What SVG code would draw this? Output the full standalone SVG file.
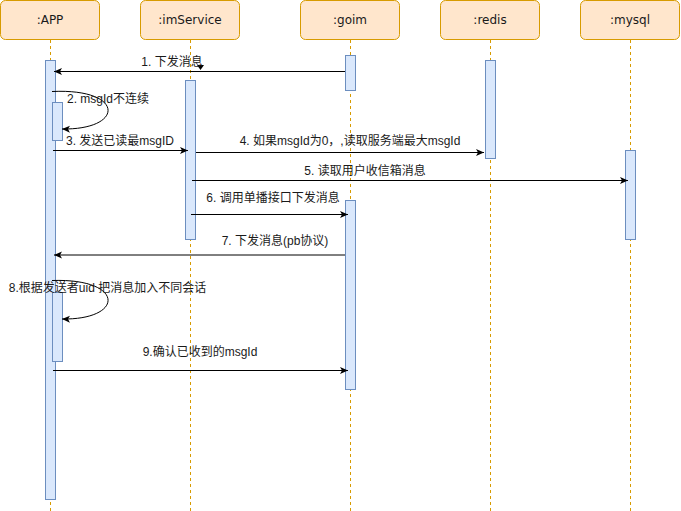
<svg xmlns="http://www.w3.org/2000/svg" width="681" height="511" viewBox="0 0 681 511">
<style>
.hdr{fill:#ffe6cc;stroke:#d79b00;stroke-width:1}
.life{stroke:#d79b00;stroke-width:1;stroke-dasharray:3 3;fill:none}
.act{fill:#dae8fc;stroke:#6c8ebf;stroke-width:1}
.msg{stroke:#000;stroke-width:1;fill:none}
text{font-family:"Liberation Sans","Noto Sans CJK SC",sans-serif;font-size:12px;fill:#1a1a1a}
.ht{text-anchor:middle;font-family:"DejaVu Sans","Liberation Sans",sans-serif}
.lbl{text-anchor:middle}
</style>
<defs>
<marker id="arr" markerUnits="userSpaceOnUse" markerWidth="10" markerHeight="8" refX="8" refY="3.5" orient="auto">
<path d="M0,0 L8,3.5 L0,7 L2,3.5 Z" fill="#000"/>
</marker>
</defs>
<rect width="681" height="511" fill="#fff"/>
<g id="lifelines">
<line class="life" x1="50.5" y1="40" x2="50.5" y2="511"/>
<line class="life" x1="190.5" y1="40" x2="190.5" y2="511"/>
<line class="life" x1="350.5" y1="40" x2="350.5" y2="511"/>
<line class="life" x1="490.5" y1="40" x2="490.5" y2="511"/>
<line class="life" x1="630.5" y1="40" x2="630.5" y2="511"/>
</g>
<g id="node-app">
<rect class="hdr" x="0.5" y="0.5" width="99" height="39" rx="5"/>
<text class="ht" x="50" y="24">:APP</text>
<rect class="act" x="45.5" y="60.5" width="10" height="439"/>
<rect class="act" x="52.5" y="102.5" width="10" height="38"/>
<rect class="act" x="52.5" y="292.5" width="10" height="69"/>
</g>
<g id="node-imservice">
<rect class="hdr" x="140.5" y="0.5" width="99" height="39" rx="5"/>
<text class="ht" x="190" y="24">:imService</text>
<rect class="act" x="185.5" y="80.5" width="10" height="159"/>
</g>
<g id="node-goim">
<rect class="hdr" x="300.5" y="0.5" width="99" height="39" rx="5"/>
<text class="ht" x="350" y="24">:goim</text>
<rect class="act" x="345.5" y="55.5" width="10" height="35"/>
<rect class="act" x="345.5" y="200.5" width="10" height="189"/>
</g>
<g id="node-redis">
<rect class="hdr" x="440.5" y="0.5" width="99" height="39" rx="5"/>
<text class="ht" x="490" y="24">:redis</text>
<rect class="act" x="485.5" y="60.5" width="10" height="98"/>
</g>
<g id="node-mysql">
<rect class="hdr" x="580.5" y="0.5" width="99" height="39" rx="5"/>
<text class="ht" x="630" y="24">:mysql</text>
<rect class="act" x="625.5" y="150.5" width="10" height="89"/>
</g>
<g id="connectors">
<line class="msg" x1="345" y1="71.5" x2="54" y2="71.5" marker-end="url(#arr)"/>
<path d="M197,65 L204,65 L200.5,70 Z" fill="#000"/>
<path class="msg" d="M52,91.5 C125,88 125,130 62,129" marker-end="url(#arr)"/>
<line class="msg" x1="53" y1="150.5" x2="188" y2="150.5" marker-end="url(#arr)"/>
<line class="msg" x1="196" y1="152.5" x2="484" y2="152.5" marker-end="url(#arr)"/>
<line class="msg" x1="192" y1="180.5" x2="628" y2="180.5" marker-end="url(#arr)"/>
<line class="msg" x1="191" y1="214.5" x2="348" y2="214.5" marker-end="url(#arr)"/>
<line class="msg" x1="345" y1="255" x2="54" y2="255" marker-end="url(#arr)"/>
<path class="msg" d="M52,280.5 C125,278 125,320 62,319" marker-end="url(#arr)"/>
<line class="msg" x1="53" y1="370.5" x2="348" y2="370.5" marker-end="url(#arr)"/>
</g>
<g id="labels">
<text class="lbl" x="172" y="66">1. 下发消息</text>
<text class="lbl" x="108" y="103">2. msgId不连续</text>
<text class="lbl" x="120" y="145">3. 发送已读最msgID</text>
<text class="lbl" x="350" y="145">4. 如果msgId为0，,读取服务端最大msgId</text>
<text class="lbl" x="365" y="175">5. 读取用户收信箱消息</text>
<text class="lbl" x="273" y="202">6. 调用单播接口下发消息</text>
<text class="lbl" x="275" y="245">7. 下发消息(pb协议)</text>
<text class="lbl" x="107.5" y="291.5">8.根据发送者uid 把消息加入不同会话</text>
<text class="lbl" x="200" y="356">9.确认已收到的msgId</text>
</g>
</svg>
